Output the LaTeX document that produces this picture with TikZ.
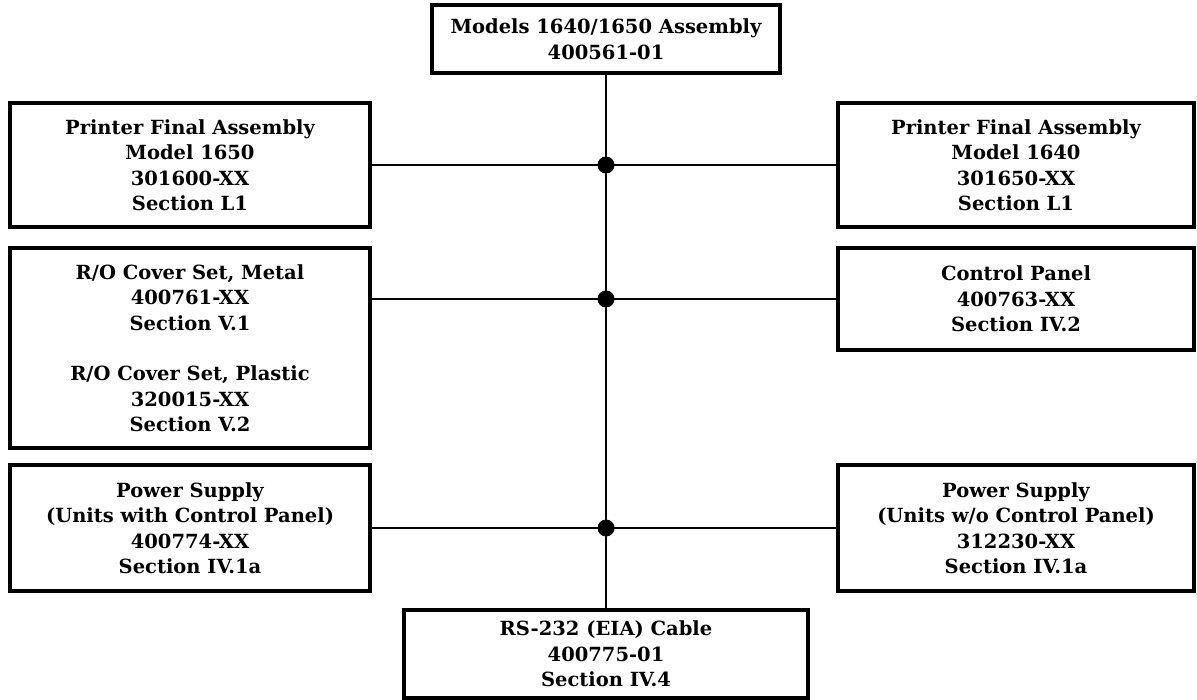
\documentclass[tikz,border=0pt]{standalone}
\usepackage{fontspec}
\setmainfont{DejaVu Serif}
\usetikzlibrary{positioning, calc}

\tikzset{
  partbox/.style={draw, line width=3.4pt, align=center, inner sep=0pt,
                  font=\bfseries\fontsize{19.5}{25.5}\selectfont},
  link/.style={line width=2.4pt},
  junction/.style={circle, fill, inner sep=0pt, minimum size=17pt}
}

\begin{document}
\begin{tikzpicture}[x=1pt, y=-1pt]
  \useasboundingbox (0,0) rectangle (1197,700);

  % top and bottom of the tree
  \node[partbox, minimum width=348pt, minimum height=68pt] (asm) at (606,39) {
    Models 1640/1650 Assembly\\
    400561-01
  };
  \node[partbox, minimum width=404pt, minimum height=88pt] (cable) at (606,654) {
    RS-232 (EIA) Cable\\
    400775-01\\
    Section IV.4
  };

  % left column
  \node[partbox, minimum width=360pt, minimum height=124pt] (fin50) at (190,165) {
    Printer Final Assembly\\
    Model 1650\\
    301600-XX\\
    Section L1
  };
  \node[partbox, minimum width=360pt, minimum height=200pt] (cover) at (190,348) {
    R/O Cover Set, Metal\\
    400761-XX\\
    Section V.1\\[25pt]
    R/O Cover Set, Plastic\\
    320015-XX\\
    Section V.2
  };
  \node[partbox, minimum width=360pt, minimum height=126pt] (psu1) at (190,528) {
    Power Supply\\
    (Units with Control Panel)\\
    400774-XX\\
    Section IV.1a
  };

  % right column
  \node[partbox, minimum width=356pt, minimum height=124pt] (fin40) at (1016,165) {
    Printer Final Assembly\\
    Model 1640\\
    301650-XX\\
    Section L1
  };
  \node[partbox, minimum width=356pt, minimum height=102pt] (panel) at (1016,299) {
    Control Panel\\
    400763-XX\\
    Section IV.2
  };
  \node[partbox, minimum width=356pt, minimum height=126pt] (psu2) at (1016,528) {
    Power Supply\\
    (Units w/o Control Panel)\\
    312230-XX\\
    Section IV.1a
  };

  % junctions on the trunk
  \coordinate (j1) at (asm.south |- fin40.west);
  \coordinate (j2) at (asm.south |- panel.west);
  \coordinate (j3) at (asm.south |- psu2.west);

  \draw[link] (asm.south) -- (cable.north);
  \draw[link] (fin50.east |- j1) -- (fin40.west);
  \draw[link] (cover.east |- j2) -- (panel.west);
  \draw[link] (psu1.east |- j3) -- (psu2.west);

  \foreach \j in {j1, j2, j3}
    \node[junction] at (\j) {};
\end{tikzpicture}
\end{document}
